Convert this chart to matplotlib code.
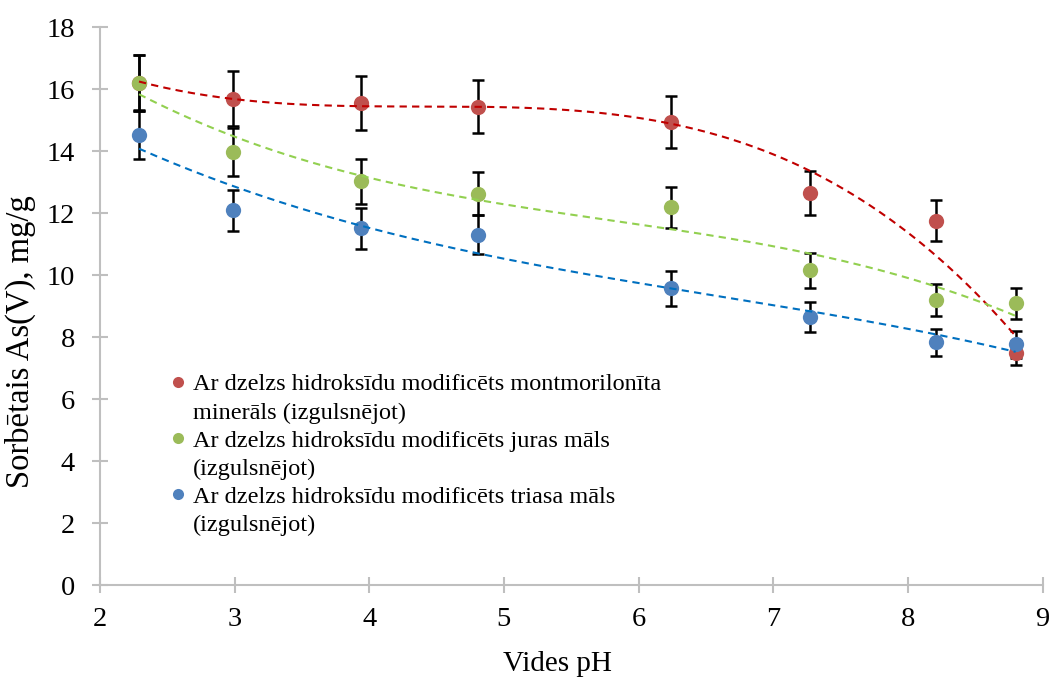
import numpy as np
import matplotlib.pyplot as plt
from matplotlib.lines import Line2D

plt.rcParams['font.family'] = ['Liberation Serif', 'DejaVu Serif']

# pH values
ph = [2.29, 2.99, 3.94, 4.81, 6.24, 7.27, 8.21, 8.80]

# sorbcija, mg/g
mont = [16.20, 15.70, 15.56, 15.44, 14.94, 12.66, 11.76, 7.49]
mont_err = [0.90, 0.88, 0.87, 0.85, 0.83, 0.71, 0.66, 0.40]
jura = [16.20, 13.97, 13.03, 12.63, 12.19, 10.16, 9.20, 9.09]
jura_err = [0.90, 0.77, 0.72, 0.70, 0.67, 0.56, 0.52, 0.51]
trias = [14.54, 12.09, 11.51, 11.31, 9.58, 8.66, 7.83, 7.77]
trias_err = [0.80, 0.67, 0.65, 0.63, 0.56, 0.49, 0.43, 0.43]

labels = ['Ar dzelzs hidroksīdu modificēts montmorilonīta', 'minerāls (izgulsnējot)',
          'Ar dzelzs hidroksīdu modificēts juras māls', '(izgulsnējot)',
          'Ar dzelzs hidroksīdu modificēts triasa māls', '(izgulsnējot)']

series = [
    (mont, mont_err, '#C0504D', '#C00000'),
    (jura, jura_err, '#9BBB59', '#92D050'),
    (trias, trias_err, '#4F81BD', '#0070C0'),
]

fig, ax = plt.subplots(figsize=(10.52, 6.82), dpi=100)
fig.subplots_adjust(left=0.095, right=0.991, top=0.96, bottom=0.142)

x = np.array(ph)
xs = np.linspace(x.min(), x.max(), 200)
for y, err, col, tcol in series:
    ax.errorbar(x, y, yerr=err, fmt='none', ecolor='black', elinewidth=1.8,
                capsize=4.5, capthick=1.8, zorder=2)
    ax.plot(x, y, 'o', color=col, markersize=11, markeredgewidth=0, zorder=3)
    # polinoma trendlīnija
    c = np.polyfit(x, y, 3)
    ax.plot(xs, np.polyval(c, xs), '--', color=tcol, lw=1.5, dashes=(3.5, 2.5), zorder=4)

ax.set_xlim(2, 9)
ax.set_ylim(0, 18)
ax.set_xticks(range(2, 10))
ax.set_yticks(range(0, 19, 2))
ax.tick_params(labelsize=20.5, color='#BFBFBF', direction='inout', length=12, width=1.5)
ax.tick_params(axis='x', pad=10)
ax.tick_params(axis='y', pad=12)
for s in ['top', 'right']:
    ax.spines[s].set_visible(False)
for s in ['left', 'bottom']:
    ax.spines[s].set_color('#BFBFBF')
    ax.spines[s].set_linewidth(1.5)

ax.set_xlabel('Vides pH', fontsize=21)
ax.set_ylabel('Sorbētais As(V), mg/g', fontsize=23.5)
ax.xaxis.set_label_coords(0.485, -0.118)
ax.yaxis.set_label_coords(-0.068, 0.437)

handles = []
for _, _, col, _ in series:
    handles.append(Line2D([], [], marker='o', color=col, ls='none', markersize=8, markeredgewidth=0))
    handles.append(Line2D([], [], ls='none'))
ax.legend(handles, labels, loc='upper left', bbox_to_anchor=(0.065, 0.397), frameon=False,
          fontsize=17.5, handlelength=0.6, handletextpad=0.3, labelspacing=0.25,
          borderaxespad=0)

fig.savefig('out.png')
